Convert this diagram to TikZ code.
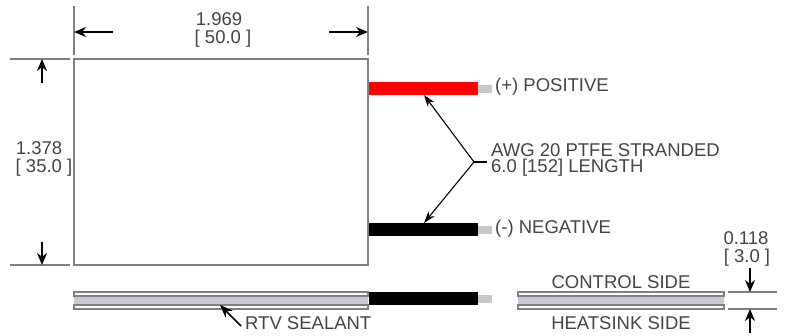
\documentclass[tikz,border=0pt]{standalone}
\usepackage{fontspec}
\setmainfont{Liberation Sans}
\usetikzlibrary{arrows.meta}
\definecolor{edgegray}{HTML}{808080}
\definecolor{sealgray}{HTML}{C6C6D4}
\definecolor{stubgray}{HTML}{C8C8C8}
\definecolor{labelgray}{HTML}{444444}
\tikzset{
  dimline/.style={edgegray, line width=1.8pt},
  dimarrow/.style={black, line width=2pt, -{Stealth[length=12pt,width=10pt]}},
  leader/.style={black, line width=1.1pt, -{Stealth[length=12pt,width=8pt]}},
  label/.style={inner sep=0pt, text=labelgray, font=\fontsize{18.5}{16}\selectfont},
  leftlabel/.style={label, anchor=west, align=left},
  board/.style={draw=edgegray, line width=2.4pt},
  sheet/.style={draw=edgegray, line width=2pt, fill=white},
}
\begin{document}
\begin{tikzpicture}[x=1pt, y=-1pt]
    \useasboundingbox (0,0) rectangle (787,336);
    \coordinate (tl) at (74,59); \coordinate (tr) at (368,59);
    \coordinate (bl) at (74,265); \coordinate (br) at (368,265);

    % Top view
    \draw[board] (tl)--(tr)--(br)--(bl)--cycle;

    % Width dimension
    \coordinate (wl) at (74,6); \coordinate (wle) at (74,55);
    \coordinate (wr) at (368,6); \coordinate (wre) at (368,55);
    \coordinate (wla) at (113,32); \coordinate (wlb) at (74,32);
    \coordinate (wra) at (329,32); \coordinate (wrb) at (368,32);
    \draw[dimline] (wl)--(wle);
    \draw[dimline] (wr)--(wre);
    \draw[dimarrow] (wla)--(wlb);
    \draw[dimarrow] (wra)--(wrb);
    \node[label] (winch) at (219,19) {1.969};
    \node[label] (wmm) at (223,39) {[ 50.0 ]};

    % Height dimension
    \coordinate (ha) at (10,59); \coordinate (hb) at (70,59);
    \coordinate (hc) at (10,265); \coordinate (hd) at (70,265);
    \coordinate (hta) at (42,83); \coordinate (htb) at (42,59);
    \coordinate (hba) at (42,242); \coordinate (hbb) at (42,265);
    \draw[dimline] (ha)--(hb);
    \draw[dimline] (hc)--(hd);
    \draw[dimarrow] (hta)--(htb);
    \draw[dimarrow] (hba)--(hbb);
    \node[label] (hinch) at (39,148) {1.378};
    \node[label] (hmm) at (44,168) {[ 35.0 ]};

    % Wires
    \fill[red] (369,82) rectangle (478,95);
    \fill[black] (369,223) rectangle (478,236);
    \fill[stubgray] (478,85) rectangle (492,93);
    \fill[stubgray] (478,226) rectangle (492,234);
    \node[leftlabel] (pos) at (495,87) {(+) POSITIVE};
    \node[leftlabel] (neg) at (495,229) {(-) NEGATIVE};

    % Wire callout
    \node[leftlabel] (awg) at (491,160) {AWG 20 PTFE STRANDED\\6.0 [152] LENGTH};
    \coordinate (fork) at (474,162); \coordinate (forkend) at (487,162);
    \coordinate (redpt) at (424,95); \coordinate (blackpt) at (424,223);
    \draw[black, line width=1.1pt] (forkend)--(fork);
    \draw[leader] (fork)--(redpt);
    \draw[leader] (fork)--(blackpt);

    % Side views
    \foreach \xa/\xb in {74/368,518/724} {
      \filldraw[sheet] (\xa,292.5) rectangle (\xb,296.5);
      \filldraw[sheet] (\xa,305.5) rectangle (\xb,309.5);
      \fill[sealgray] (\xa,297.5) rectangle (\xb,304.5);
    }
    \fill[black] (369,292) rectangle (478,305);
    \fill[stubgray] (478,295) rectangle (492,303);

    % RTV callout
    \node[leftlabel] (rtv) at (245,323) {RTV SEALANT};
    \coordinate (rtva) at (241,326); \coordinate (rtvb) at (220,305);
    \draw[black, line width=1.6pt, -{Stealth[length=13pt,width=10pt]}] (rtva)--(rtvb);

    % Thickness dimension
    \node[label] (ctrl) at (621,282) {CONTROL SIDE};
    \node[label] (sink) at (621,323) {HEATSINK SIDE};
    \node[label] (tinch) at (746,238) {0.118};
    \node[label] (tmm) at (747,258) {[ 3.0 ]};
    \coordinate (tla) at (728,292); \coordinate (tlb) at (777,292);
    \coordinate (tlc) at (728,309); \coordinate (tld) at (777,309);
    \coordinate (taa) at (750,268); \coordinate (tab) at (750,292);
    \coordinate (tba) at (750,333); \coordinate (tbb) at (750,309);
    \draw[dimline] (tla)--(tlb);
    \draw[dimline] (tlc)--(tld);
    \draw[dimarrow] (taa)--(tab);
    \draw[dimarrow] (tba)--(tbb);
\end{tikzpicture}
\end{document}
